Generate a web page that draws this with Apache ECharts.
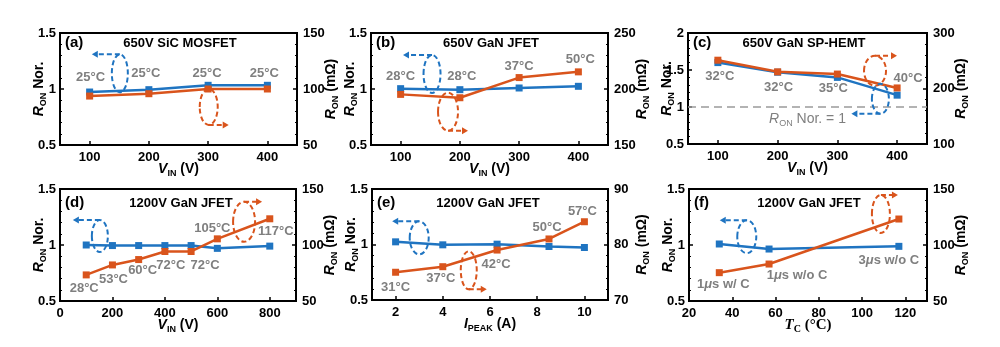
<!DOCTYPE html>
<html>
<head>
<meta charset="utf-8">
<script src="https://cdn.jsdelivr.net/npm/echarts@6/dist/echarts.min.js"></script>
<style>
html, body { margin: 0; padding: 0; background: #fff; }
#chart { width: 1000px; height: 347px; }
</style>
</head>
<body>
<div id="chart"></div>
<script>
// ---- measured values ----
// (a) 650V SiC MOSFET
const vinA = [100, 200, 300, 400];
const norA = [0.973, 0.994, 1.033, 1.033];
const ronA = [93.7, 95.8, 100, 100];
const tempA = ['25°C', '25°C', '25°C', '25°C'];
// (b) 650V GaN JFET
const vinB = [100, 200, 300, 400];
const norB = [1.003, 0.994, 1.009, 1.024];
const ronB = [195.2, 192.2, 210.2, 215.3];
const tempB = ['28°C', '28°C', '37°C', '50°C'];
// (c) 650V GaN SP-HEMT
const vinC = [100, 200, 300, 400];
const norC = [1.60, 1.47, 1.40, 1.16];
const ronC = [251, 230, 226, 201];
const tempC = ['32°C', '32°C', '35°C', '40°C'];
// (d) 1200V GaN JFET vs input voltage
const vinD = [100, 200, 300, 400, 500, 600, 800];
const norD = [1.0, 0.995, 0.995, 0.995, 0.995, 0.97, 0.99];
const ronD = [73.3, 82.2, 87, 94.2, 94.2, 105.5, 123.4];
const tempD = ['28°C', '53°C', '60°C', '72°C', '72°C', '105°C', '117°C'];
// (e) 1200V GaN JFET vs peak current
const ipkE = [2, 4, 6.3, 8.5, 10];
const norE = [1.024, 0.997, 1.003, 0.982, 0.973];
const ronE = [75, 76, 79, 81, 84.1];
const tempE = ['31°C', '37°C', '42°C', '50°C', '57°C'];
// (f) 1200V GaN JFET vs case temperature
const tcF = [34, 57, 117];
const norF = [1.009, 0.964, 0.988];
const ronF = [75.3, 83, 123.2];
const condF = ['1{m|μ}s w/ C', '1{m|μ}s w/o C', '3{m|μ}s w/o C'];

// tick labels
const xTicksVin = [100, 200, 300, 400];
const xTicksVinD = [0, 200, 400, 600, 800];
const xTicksIpk = [2, 4, 6, 8, 10];
const xTicksTc = [20, 40, 60, 80, 100, 120];

const BLUE = '#1f74c1';
const ORANGE = '#d9541c';
const GRAY = '#7f7f7f';
const FONT = '"Liberation Sans", Arial, sans-serif';

const NAME_VIN = '{i|V}{s|IN} (V)';
const NAME_IPK = '{i|I}{s|PEAK} (A)';
const NAME_TC = '{t|T}{ts|C}{u| (°C)}';

const panels = [
  { tag: '(a)', title: '650V SiC MOSFET', x: vinA, nor: norA, ron: ronA, notes: tempA,
    xMin: 50, xMax: 450, xTicks: xTicksVin, xName: NAME_VIN, yL: [0.5, 1.5, 0.5], yR: [50, 150, 50] },
  { tag: '(b)', title: '650V GaN JFET', x: vinB, nor: norB, ron: ronB, notes: tempB,
    xMin: 50, xMax: 450, xTicks: xTicksVin, xName: NAME_VIN, yL: [0.5, 1.5, 0.5], yR: [150, 250, 50] },
  { tag: '(c)', title: '650V GaN SP-HEMT', x: vinC, nor: norC, ron: ronC, notes: tempC,
    xMin: 50, xMax: 450, xTicks: xTicksVin, xName: NAME_VIN, yL: [0.5, 2, 0.5], yR: [100, 300, 100], refLine: 1 },
  { tag: '(d)', title: '1200V GaN JFET', x: vinD, nor: norD, ron: ronD, notes: tempD,
    xMin: 0, xMax: 900, xTicks: xTicksVinD, xName: NAME_VIN, yL: [0.5, 1.5, 0.5], yR: [50, 150, 50] },
  { tag: '(e)', title: '1200V GaN JFET', x: ipkE, nor: norE, ron: ronE, notes: tempE,
    xMin: 1, xMax: 11, xTicks: xTicksIpk, xName: NAME_IPK, yL: [0.5, 1.5, 0.5], yR: [70, 90, 10] },
  { tag: '(f)', title: '1200V GaN JFET', x: tcF, nor: norF, ron: ronF, notes: condF,
    xMin: 20, xMax: 130, xTicks: xTicksTc, xName: NAME_TC, yL: [0.5, 1.5, 0.5], yR: [50, 150, 50] }
];

// placement of panels, text notes and the dashed axis-pointer loops
const layout = [
  { grid: { left: 60, top: 33, width: 237, height: 112 }, titleX: 180, titleY: 43, noteOn: 0,
    noteOff: [[1, -15], [-3, -16], [-1, -12], [-3, -12]],
    loops: [
      { s: 0, c: [151, 1.14], rx: 8, ry: 19, side: -1, dir: -1, len: 28 },
      { s: 1, c: [301, 0.84], rx: 9, ry: 18, side: 1, dir: 1, len: 20 }
    ] },
  { grid: { left: 371, top: 33, width: 237, height: 112 }, titleX: 491, titleY: 43, noteOn: 1,
    noteOff: [[0, -18], [2, -21], [0, -11], [2, -12]],
    loops: [
      { s: 0, c: [153, 1.134], rx: 8.5, ry: 19, side: -1, dir: -1, len: 29 },
      { s: 1, c: [180, 0.797], rx: 10, ry: 19, side: 1, dir: 1, len: 20 }
    ] },
  { grid: { left: 688, top: 33, width: 239, height: 111 }, titleX: 804, titleY: 43, noteOn: 0,
    noteOff: [[2, 14], [1, 15], [-4, 11], [11, -17]],
    loops: [
      { s: 1, c: [363, 1.49], rx: 11, ry: 15, side: -1, dir: 1, len: 22 },
      { s: 0, c: [372, 1.11], rx: 8.5, ry: 15, side: 1, dir: -1, len: 29 }
    ] },
  { grid: { left: 60, top: 189, width: 236, height: 112 }, titleX: 181, titleY: 203, noteOn: 1,
    noteOff: [[-2, 14], [1, 14], [4, 11], [6, 14], [14, 14], [-5, -10], [6, 13]],
    loops: [
      { s: 0, c: [152, 1.08], rx: 8, ry: 16, side: -1, dir: -1, len: 27 },
      { s: 1, c: [702, 1.207], rx: 11, ry: 20, side: -1, dir: 1, len: 18 }
    ] },
  { grid: { left: 372, top: 189, width: 236, height: 111 }, titleX: 488, titleY: 203, noteOn: 1,
    noteOff: [[0, 15], [-2, 12], [-1, 14], [-2, -12], [-2, -10]],
    loops: [
      { s: 0, c: [3.0, 1.06], rx: 9.5, ry: 16.5, side: -1, dir: -1, len: 27 },
      { s: 1, c: [5.1, 0.768], rx: 8, ry: 19, side: 1, dir: 1, len: 18 }
    ] },
  { grid: { left: 689, top: 189, width: 238, height: 112 }, titleX: 809, titleY: 203, noteOn: 1,
    noteOff: [[4, 12], [28, 11], [-10, 41]],
    loops: [
      { s: 0, c: [46.7, 1.074], rx: 9.5, ry: 16.5, side: -1, dir: -1, len: 27 },
      { s: 1, c: [108.7, 1.277], rx: 9, ry: 19, side: -1, dir: 1, len: 17 }
    ] }
];

const nameRich = {
  r: { fontStyle: 'italic', fontWeight: 'bold', fontSize: 14, fontFamily: FONT, lineHeight: 18 },
  s: { fontWeight: 'bold', fontSize: 9, fontFamily: FONT, verticalAlign: 'bottom', lineHeight: 11 },
  i: { fontStyle: 'italic', fontWeight: 'bold', fontSize: 14, fontFamily: FONT, lineHeight: 18 },
  t: { fontStyle: 'italic', fontSize: 15, fontFamily: '"Liberation Serif", serif', lineHeight: 18 },
  ts: { fontSize: 10, fontFamily: '"Liberation Serif", serif', verticalAlign: 'bottom', lineHeight: 11 },
  u: { fontSize: 15, fontFamily: '"Liberation Serif", serif', lineHeight: 18 }
};

const grids = [], xAxes = [], yAxes = [], series = [], graphics = [];

const tickLabel = { color: '#000', fontWeight: 'bold', fontSize: 13, fontFamily: FONT };
const nameStyle = { color: '#000', fontWeight: 'bold', fontSize: 14, fontFamily: FONT, lineHeight: 18, rich: nameRich };

panels.forEach((p, i) => {
  const L = layout[i];
  grids.push(Object.assign({ show: true, borderColor: '#000', borderWidth: 2, backgroundColor: 'transparent' }, L.grid));
  xAxes.push({
    gridIndex: i, type: 'value', min: p.xMin, max: p.xMax,
    name: p.xName, nameLocation: 'middle', nameGap: 15, nameMoveOverlap: false,
    nameTextStyle: nameStyle,
    axisLine: { show: false },
    axisTick: { show: true, inside: true, length: 4, customValues: p.xTicks, lineStyle: { color: '#000', width: 1.5 } },
    axisLabel: Object.assign({ margin: 6, customValues: p.xTicks }, tickLabel),
    splitLine: { show: false }
  });
  yAxes.push({
    gridIndex: i, type: 'value', position: 'left', min: p.yL[0], max: p.yL[1], interval: p.yL[2],
    name: '{r|R}{s|ON} Nor.', nameLocation: 'middle', nameRotate: 90, nameGap: 12, nameMoveOverlap: false,
    nameTextStyle: nameStyle,
    axisLine: { show: false },
    axisTick: { show: true, inside: true, length: 4, lineStyle: { color: '#000', width: 1.5 } },
    minorTick: { show: true, splitNumber: 5, length: 2, lineStyle: { color: '#000', width: 1 } },
    axisLabel: Object.assign({ margin: 4 }, tickLabel),
    splitLine: { show: false }
  });
  yAxes.push({
    gridIndex: i, type: 'value', position: 'right', min: p.yR[0], max: p.yR[1], interval: p.yR[2],
    name: '{r|R}{s|ON} (mΩ)', nameLocation: 'middle', nameRotate: 90, nameGap: 25, nameMoveOverlap: false,
    nameTextStyle: nameStyle,
    axisLine: { show: false },
    axisTick: { show: true, inside: true, length: 4, lineStyle: { color: '#000', width: 1.5 } },
    minorTick: { show: true, splitNumber: 5, length: 2, lineStyle: { color: '#000', width: 1 } },
    axisLabel: Object.assign({ margin: 6 }, tickLabel),
    splitLine: { show: false }
  });

  const noteLabel = (k) => ({
    show: true, position: 'inside', offset: L.noteOff[k], formatter: p.notes[k],
    color: GRAY, fontWeight: 'bold', fontSize: 13, fontFamily: FONT,
    rich: { m: { fontStyle: 'italic', color: GRAY, fontWeight: 'bold', fontSize: 13, fontFamily: FONT } }
  });
  const build = (vals, s) => p.x.map((xv, k) => {
    const item = { value: [xv, vals[k]] };
    if (L.noteOn === s) item.label = noteLabel(k);
    return item;
  });

  const blue = {
    type: 'line', xAxisIndex: i, yAxisIndex: 2 * i, data: build(p.nor, 0),
    symbol: 'rect', symbolSize: 7, animation: false, z: 3,
    lineStyle: { color: BLUE, width: 2.5 }, itemStyle: { color: BLUE },
    label: { show: false }
  };
  if (p.refLine !== undefined) {
    blue.markLine = {
      silent: true, symbol: 'none', animation: false,
      data: [{ yAxis: p.refLine }],
      lineStyle: { color: '#9a9a9a', type: [8, 5], width: 1.5 },
      label: {
        position: 'insideMiddleBottom', distance: 3, formatter: '{a|R}{b|ON}{c| Nor. = 1}',
        rich: {
          a: { fontStyle: 'italic', color: GRAY, fontSize: 14, fontFamily: FONT, lineHeight: 18 },
          b: { color: GRAY, fontSize: 9, fontFamily: FONT, verticalAlign: 'bottom', lineHeight: 11 },
          c: { color: GRAY, fontSize: 14, fontFamily: FONT, lineHeight: 18 }
        }
      }
    };
  }
  series.push(blue);
  series.push({
    type: 'line', xAxisIndex: i, yAxisIndex: 2 * i + 1, data: build(p.ron, 1),
    symbol: 'rect', symbolSize: 7, animation: false, z: 4,
    lineStyle: { color: ORANGE, width: 2.5 }, itemStyle: { color: ORANGE },
    label: { show: false }
  });

  graphics.push({
    type: 'text', x: L.titleX, y: L.titleY, z: 10,
    style: { text: p.title, fill: '#000', fontWeight: 'bold', fontSize: 13, fontFamily: FONT, align: 'center', verticalAlign: 'middle' }
  });
  graphics.push({
    type: 'text', x: L.grid.left + 5, y: L.titleY, z: 10,
    style: { text: p.tag, fill: '#000', fontWeight: 'bold', fontSize: 15, fontFamily: FONT, align: 'left', verticalAlign: 'middle' }
  });
});

const chart = echarts.init(document.getElementById('chart'), null, { renderer: 'canvas' });
chart.setOption({
  backgroundColor: '#fff',
  animation: false,
  grid: grids, xAxis: xAxes, yAxis: yAxes, series: series
});

// dashed loops with arrows pointing toward the axis each curve belongs to
layout.forEach((L, i) => {
  L.loops.forEach((lp) => {
    const color = lp.s === 0 ? BLUE : ORANGE;
    const pt = chart.convertToPixel({ seriesIndex: 2 * i }, lp.c);
    const cx = pt[0], cy = pt[1];
    const dash = { stroke: color, lineWidth: 2, lineDash: [5, 3], fill: 'none' };
    graphics.push({ type: 'ellipse', z: 6, shape: { cx: cx, cy: cy, rx: lp.rx, ry: lp.ry }, style: Object.assign({}, dash) });
    const ay = cy + lp.side * lp.ry;
    const ex = cx + lp.dir * lp.len;
    graphics.push({ type: 'line', z: 6, shape: { x1: cx, y1: ay, x2: ex - lp.dir * 4, y2: ay }, style: Object.assign({}, dash) });
    graphics.push({
      type: 'polygon', z: 6,
      shape: { points: [[ex, ay], [ex - lp.dir * 6, ay - 3.5], [ex - lp.dir * 6, ay + 3.5]] },
      style: { fill: color, stroke: 'none' }
    });
  });
});

chart.setOption({ graphic: graphics });
</script>
</body>
</html>
